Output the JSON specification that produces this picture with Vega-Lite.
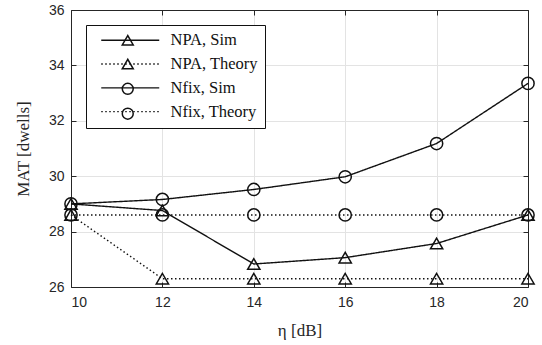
{
  "$schema": "https://vega.github.io/schema/vega-lite/v6.json",
  "width": 457,
  "height": 277,
  "autosize": {"type": "none"},
  "padding": {"left": 71, "top": 10, "right": 14, "bottom": 58},
  "background": "white",
  "config": {"view": {"stroke": null}},
  "data": {
    "values": [
      {"eta": 10, "mat": 29.0, "series": "NPA, Sim"},
      {"eta": 12, "mat": 28.76, "series": "NPA, Sim"},
      {"eta": 14, "mat": 26.83, "series": "NPA, Sim"},
      {"eta": 16, "mat": 27.06, "series": "NPA, Sim"},
      {"eta": 18, "mat": 27.57, "series": "NPA, Sim"},
      {"eta": 20, "mat": 28.6, "series": "NPA, Sim"},
      {"eta": 10, "mat": 28.6, "series": "NPA, Theory"},
      {"eta": 12, "mat": 26.3, "series": "NPA, Theory"},
      {"eta": 14, "mat": 26.3, "series": "NPA, Theory"},
      {"eta": 16, "mat": 26.3, "series": "NPA, Theory"},
      {"eta": 18, "mat": 26.3, "series": "NPA, Theory"},
      {"eta": 20, "mat": 26.3, "series": "NPA, Theory"},
      {"eta": 10, "mat": 29.0, "series": "Nfix, Sim"},
      {"eta": 12, "mat": 29.16, "series": "Nfix, Sim"},
      {"eta": 14, "mat": 29.52, "series": "Nfix, Sim"},
      {"eta": 16, "mat": 29.98, "series": "Nfix, Sim"},
      {"eta": 18, "mat": 31.18, "series": "Nfix, Sim"},
      {"eta": 20, "mat": 33.35, "series": "Nfix, Sim"},
      {"eta": 10, "mat": 28.6, "series": "Nfix, Theory"},
      {"eta": 12, "mat": 28.6, "series": "Nfix, Theory"},
      {"eta": 14, "mat": 28.6, "series": "Nfix, Theory"},
      {"eta": 16, "mat": 28.6, "series": "Nfix, Theory"},
      {"eta": 18, "mat": 28.6, "series": "Nfix, Theory"},
      {"eta": 20, "mat": 28.6, "series": "Nfix, Theory"}
    ]
  },
  "layer": [
    {
      "mark": {"type": "line", "strokeWidth": 1.4, "color": "#111111"},
      "encoding": {
        "x": {
          "field": "eta", "type": "quantitative",
          "scale": {"domain": [10, 20], "nice": false, "zero": false},
          "axis": {
            "orient": "bottom", "values": [10, 12, 14, 16, 18, 20],
            "grid": true, "gridColor": "#e3e3e3", "gridWidth": 1,
            "domainColor": "#262626", "tickColor": "#262626", "tickSize": -5,
            "labelFont": "Liberation Sans", "labelFontSize": 14, "labelColor": "#262626", "labelPadding": 13,
            "title": "η [dB]", "titleFont": "Liberation Serif", "titleFontSize": 17,
            "titleFontWeight": "normal", "titleColor": "#262626", "titlePadding": 13
          }
        },
        "y": {
          "field": "mat", "type": "quantitative",
          "scale": {"domain": [26, 36], "nice": false, "zero": false},
          "axis": {
            "orient": "left", "values": [26, 28, 30, 32, 34, 36],
            "grid": true, "gridColor": "#e3e3e3", "gridWidth": 1,
            "domainColor": "#262626", "tickColor": "#262626", "tickSize": -5,
            "labelFont": "Liberation Sans", "labelFontSize": 14, "labelColor": "#262626", "labelPadding": 12,
            "title": "MAT  [dwells]", "titleFont": "Liberation Serif", "titleFontSize": 17,
            "titleFontWeight": "normal", "titleColor": "#262626", "titlePadding": 16
          }
        },
        "strokeDash": {
          "field": "series", "type": "nominal",
          "scale": {"range": [[1, 0], [1.5, 2.5], [1, 0], [1.5, 2.5]]},
          "legend": {
            "orient": "none", "legendX": 15, "legendY": 15, "title": null, "zindex": 1,
            "symbolType": "M0,0L19.33,0", "symbolSize": 36, "symbolStrokeWidth": 1.4,
            "symbolStrokeColor": "#111111",
            "labelFont": "Liberation Serif", "labelFontSize": 16.5, "labelColor": "#111111",
            "labelOffset": 61, "rowPadding": 6.8,
            "strokeColor": "#111111", "fillColor": "white", "padding": 7
          }
        }
      }
    },
    {
      "mark": {"type": "point", "filled": false, "strokeWidth": 1.5, "color": "#111111", "opacity": 1},
      "encoding": {
        "x": {
          "field": "eta", "type": "quantitative",
          "axis": {
            "orient": "top", "values": [10, 12, 14, 16, 18, 20], "labels": false, "grid": false,
            "domainColor": "#262626", "tickColor": "#262626", "tickSize": -5, "title": null
          }
        },
        "y": {
          "field": "mat", "type": "quantitative",
          "axis": {
            "orient": "right", "values": [26, 28, 30, 32, 34, 36], "labels": false, "grid": false,
            "domainColor": "#262626", "tickColor": "#262626", "tickSize": -5, "title": null
          }
        },
        "shape": {
          "field": "series", "type": "nominal",
          "scale": {
            "domain": ["NPA, Sim", "NPA, Theory", "Nfix, Sim", "Nfix, Theory"],
            "range": ["triangle-up", "triangle-up", "circle", "circle"]
          },
          "legend": {
            "orient": "none", "legendX": 41.5, "legendY": 15, "title": null, "zindex": 2,
            "symbolSize": 120, "symbolStrokeWidth": 1.5, "symbolStrokeColor": "#111111",
            "symbolFillColor": "white",
            "labelExpr": "' '", "labelFont": "Liberation Serif", "labelFontSize": 16.5,
            "labelColor": "transparent",
            "labelOffset": 5, "rowPadding": 6.8, "padding": 7
          }
        },
        "size": {
          "field": "series", "type": "nominal",
          "scale": {
            "range": [150, 150, 95, 95]
          },
          "legend": null
        }
      }
    }
  ],
  "resolve": {"axis": {"x": "independent", "y": "independent"}}
}
